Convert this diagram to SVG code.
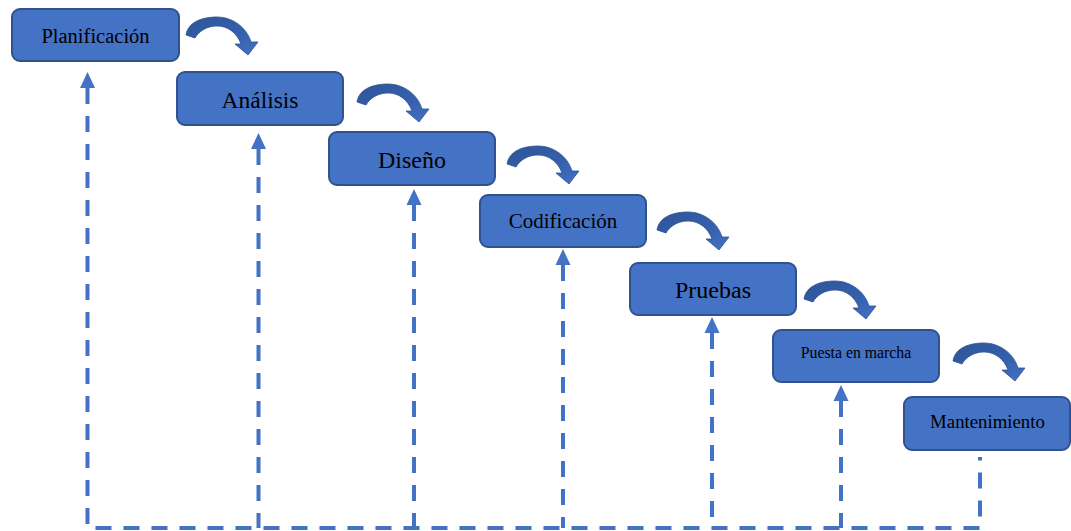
<svg xmlns="http://www.w3.org/2000/svg" xmlns:xlink="http://www.w3.org/1999/xlink" width="1071" height="531" viewBox="0 0 1071 531">
<defs>
<style>
.box{fill:#4472C4;stroke:#2F528F;stroke-width:2}
.lbl{font-family:"Liberation Serif","Times New Roman",serif;fill:#000;text-anchor:middle}
.dash{fill:none;stroke:#4472C4;stroke-width:4;stroke-dasharray:16 12}
.tri{fill:#4472C4}
.carrow{fill:url(#cg);stroke:#2F528F;stroke-width:0.8}
</style>
<linearGradient id="cg" x1="0" y1="0" x2="1" y2="1">
<stop offset="0" stop-color="#2E5597"/>
<stop offset="0.6" stop-color="#3560AE"/>
<stop offset="1" stop-color="#4472C4"/>
</linearGradient>
<path id="ca" class="carrow" d="M0,-3 C2,-16 16,-21 31,-21 C47,-21 61,-10 65,4 L72,4 L62,17 L49,6 L55,6 C51,-5 42,-12 31,-12 C21,-12 13,-7 9,0 Z"/>
</defs>
<g id="connectors">
<path class="dash" d="M87.5,88 V528 H980 V457"/>
<path class="dash" d="M258.5,149 V528"/>
<path class="dash" d="M414,205 V528"/>
<path class="dash" d="M563,265 V528"/>
<path class="dash" d="M712,333 V528"/>
<path class="dash" d="M841,401 V528"/>
<polygon class="tri" points="87.5,72 80,88 95,88"/>
<polygon class="tri" points="258.5,133 251,149 266,149"/>
<polygon class="tri" points="414,189 406.5,205 421.5,205"/>
<polygon class="tri" points="563,249 555.5,265 570.5,265"/>
<polygon class="tri" points="712,317 704.5,333 719.5,333"/>
<polygon class="tri" points="841,385 833.5,401 848.5,401"/>
<use xlink:href="#ca" transform="translate(186,38)"/>
<use xlink:href="#ca" transform="translate(357,105)"/>
<use xlink:href="#ca" transform="translate(507,167)"/>
<use xlink:href="#ca" transform="translate(657,233)"/>
<use xlink:href="#ca" transform="translate(804,302)"/>
<use xlink:href="#ca" transform="translate(953,364)"/>
</g>
<g id="n1"><rect class="box" x="12" y="9" width="167" height="52" rx="8"/><text class="lbl" x="95.5" y="43" font-size="20.5">Planificación</text></g>
<g id="n2"><rect class="box" x="177" y="72" width="166" height="53" rx="8"/><text class="lbl" x="260" y="108" font-size="23.5">Análisis</text></g>
<g id="n3"><rect class="box" x="329" y="132" width="166" height="53" rx="8"/><text class="lbl" x="412" y="168" font-size="24">Diseño</text></g>
<g id="n4"><rect class="box" x="480" y="195" width="166" height="52" rx="8"/><text class="lbl" x="563" y="228" font-size="21">Codificación</text></g>
<g id="n5"><rect class="box" x="630" y="263" width="166" height="52" rx="8"/><text class="lbl" x="713" y="298" font-size="24">Pruebas</text></g>
<g id="n6"><rect class="box" x="773" y="330" width="166" height="52" rx="8"/><text class="lbl" x="856" y="358" font-size="15.8">Puesta en marcha</text></g>
<g id="n7"><rect class="box" x="904" y="397" width="166" height="53" rx="8"/><text class="lbl" x="987.5" y="428" font-size="18.8">Mantenimiento</text></g>
</svg>
